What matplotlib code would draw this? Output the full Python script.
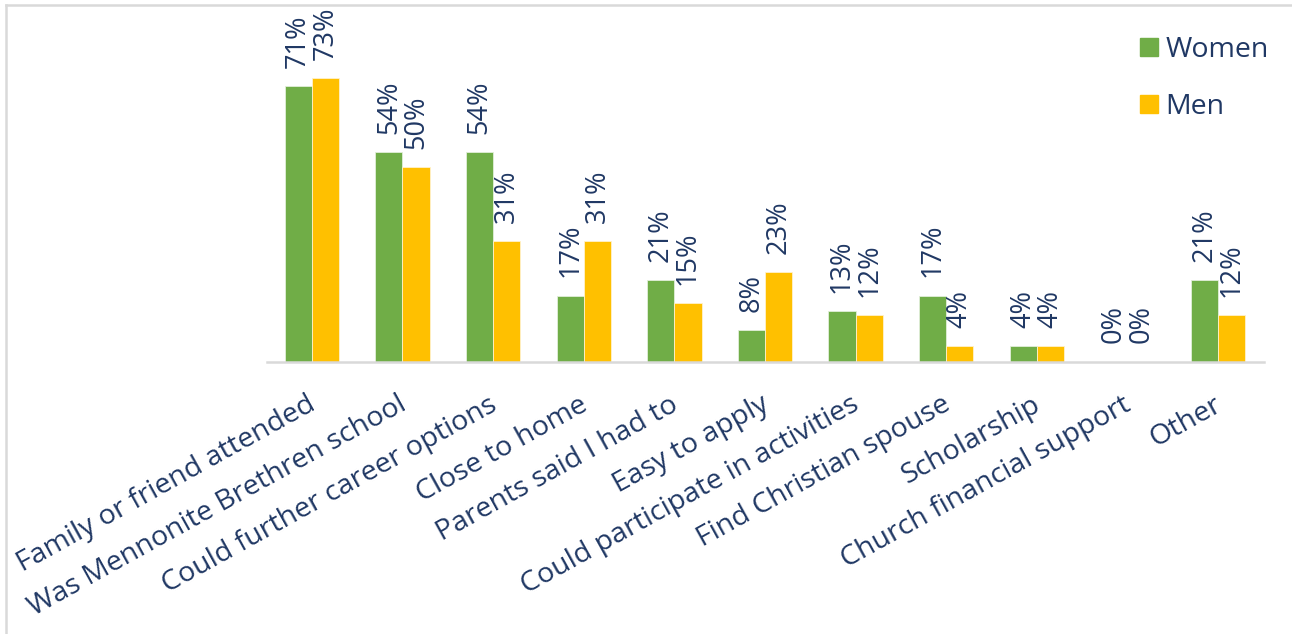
import matplotlib
matplotlib.use("Agg")
import matplotlib.pyplot as plt
import matplotlib.transforms as mtransforms
from matplotlib.lines import Line2D
import numpy as np

categories = ["Family or friend attended", "Was Mennonite Brethren school",
              "Could further career options", "Close to home", "Parents said I had to",
              "Easy to apply", "Could participate in activities", "Find Christian spouse",
              "Scholarship", "Church financial support", "Other"]
women = [71, 54, 54, 17, 21, 8, 13, 17, 4, 0, 21]
men = [73, 50, 31, 31, 15, 23, 12, 4, 4, 0, 12]
series_names = ["Women", "Men"]

GREEN = "#70AD47"
YELLOW = "#FFC000"
TEXT = "#203864"
FS = 20.5
FS_LAB = 19.5

plt.rcParams['font.family'] = ['Open Sans', 'DejaVu Sans']

fig = plt.figure(figsize=(12.92, 6.34), dpi=100)
W, H = 1292, 634
# figure frame (light gray, top and left visible)
fig.add_artist(Line2D([6/W, 6/W], [0, 1 - 5/H], color="#D9D9D9", lw=1.8, transform=fig.transFigure))
fig.add_artist(Line2D([6/W, 1], [1 - 5/H, 1 - 5/H], color="#D9D9D9", lw=1.8, transform=fig.transFigure))

left, right = 266.5, 1263.5
base = 361.5
ppu = 3.882
ymax = 80
ax = fig.add_axes([left/W, (H - base)/H, (right-left)/W, ymax*ppu/H])

x = np.arange(len(categories))
bw = 0.3
ax.bar(x - bw/2, women, bw, color=GREEN, edgecolor="#E2EFDA", linewidth=0.6, label=series_names[0])
ax.bar(x + bw/2, men, bw, color=YELLOW, edgecolor="#FFF2CC", linewidth=0.6, label=series_names[1])

for xi, v in zip(x - bw/2, women):
    ax.annotate(f"{v}%", (xi, v), xytext=(0, 13), textcoords="offset points",
                rotation=90, ha="center", va="bottom", fontsize=FS_LAB, color=TEXT, clip_on=False)
for xi, v in zip(x + bw/2, men):
    ax.annotate(f"{v}%", (xi, v), xytext=(0, 13), textcoords="offset points",
                rotation=90, ha="center", va="bottom", fontsize=FS_LAB, color=TEXT, clip_on=False)

ax.set_xlim(-0.5, len(categories) - 0.5)
ax.set_ylim(0, ymax)
ax.set_yticks([])
ax.set_xticks(x)
ax.set_xticklabels(categories, rotation=29, ha="right", va="top", rotation_mode="anchor",
                   fontsize=FS, color=TEXT)
ax.tick_params(axis="x", length=0, pad=21)
shift = mtransforms.ScaledTranslation(-5/100, 0, fig.dpi_scale_trans)
for lbl in ax.get_xticklabels():
    lbl.set_transform(lbl.get_transform() + shift)
for s in ["top", "right", "left"]:
    ax.spines[s].set_visible(False)
ax.spines["bottom"].set_color("#D9D9D9")
ax.spines["bottom"].set_linewidth(1.8)

handles = [Line2D([], [], marker="s", linestyle="none", markersize=13, color=GREEN),
           Line2D([], [], marker="s", linestyle="none", markersize=13, color=YELLOW)]
leg = fig.legend(handles, series_names, loc="upper left", bbox_to_anchor=(1123/W, 1 - 22/H),
                 frameon=False, fontsize=FS, handlelength=0.8, handletextpad=0.2,
                 labelspacing=1.0, borderpad=0, labelcolor=TEXT)

fig.savefig("out.png", dpi=100, facecolor="white")
